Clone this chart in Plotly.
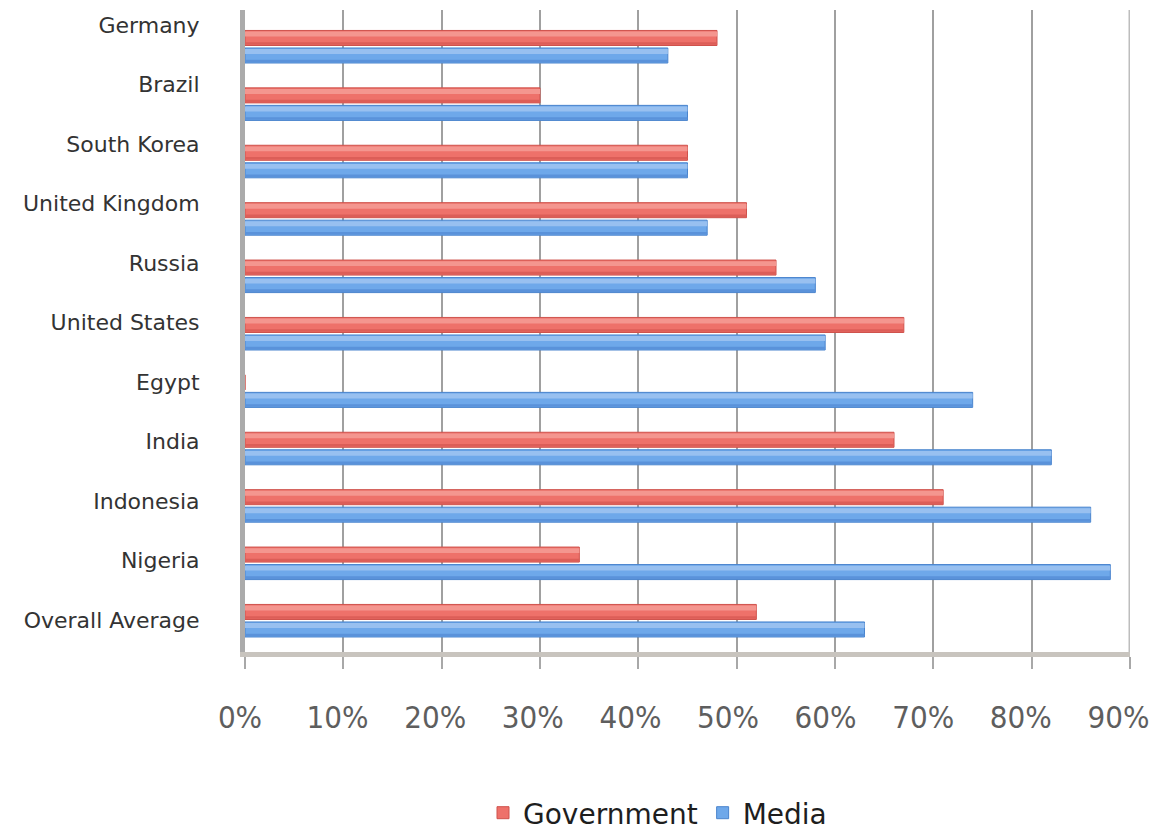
import plotly.graph_objects as go

# Trust in institutions by country (share of respondents)
countries = [
    "Germany", "Brazil", "South Korea", "United Kingdom", "Russia",
    "United States", "Egypt", "India", "Indonesia", "Nigeria", "Overall Average",
]
government = [0.48, 0.30, 0.45, 0.51, 0.54, 0.67, 0.0, 0.66, 0.71, 0.34, 0.52]
media = [0.43, 0.45, 0.45, 0.47, 0.58, 0.59, 0.74, 0.82, 0.86, 0.88, 0.63]
x_ticks = [0, 0.1, 0.2, 0.3, 0.4, 0.5, 0.6, 0.7, 0.8, 0.9]
x_tick_text = ["0%", "10%", "20%", "30%", "40%", "50%", "60%", "70%", "80%", "90%"]

# colour ramps for the shaded, tube-like bars: (light top, body, dark lower edge, outline)
RED = ("#F4968F", "#EE716A", "#DC5E58", "#CF524C")
BLUE = ("#98C0F0", "#6EA8EA", "#5A92DA", "#4A84CD")

# plot area spans 230..1130 px horizontally; bars start at the back wall (245 px)
PLOT_L, PLOT_R = 230, 1130
WALL_X = 245
plot_w = PLOT_R - PLOT_L

# bar geometry inside each category slot (category units, axis reversed so
# negative offsets are drawn higher up)
BAR_W = 0.262
SLOT = 0.305
LIGHT_W = 0.085
DARK_W = 0.045

fig = go.Figure()


def add_series(name, values, ramp, offset):
    light, body, dark, outline = ramp
    fig.add_trace(go.Bar(
        name=name, y=countries, x=values, orientation="h",
        offset=offset, width=BAR_W,
        marker=dict(color=body, line=dict(color=outline, width=1)),
    ))
    fig.add_trace(go.Bar(
        y=countries, x=values, orientation="h",
        offset=offset + 0.02, width=LIGHT_W,
        marker=dict(color=light, line=dict(width=0)),
        showlegend=False, hoverinfo="skip",
    ))
    fig.add_trace(go.Bar(
        y=countries, x=values, orientation="h",
        offset=offset + BAR_W - DARK_W - 0.012, width=DARK_W,
        marker=dict(color=dark, line=dict(width=0)),
        showlegend=False, hoverinfo="skip",
    ))


add_series("Government", government, RED, -SLOT + (SLOT - BAR_W) / 2)
add_series("Media", media, BLUE, (SLOT - BAR_W) / 2)

# Carrier trace for the front-face labels (categories and percentages)
fig.add_trace(go.Scatter(
    x=[0] * len(countries), y=countries, yaxis="y2", xaxis="x2",
    mode="markers", marker=dict(opacity=0), showlegend=False, hoverinfo="skip",
))

# front-face percentage scale: 0% centred at 240 px, 97.6 px per 10%
front_zero, front_step = 240, 976.0
x2_lo = (PLOT_L + 5 - front_zero) / front_step
x2_hi = x2_lo + (plot_w - 5) / front_step

fig.update_layout(
    template="none",
    width=1162, height=834,
    margin=dict(l=PLOT_L, r=1162 - PLOT_R, t=10, b=182, autoexpand=False),
    paper_bgcolor="white", plot_bgcolor="rgba(0,0,0,0)",
    barmode="overlay",
    font=dict(family="DejaVu Sans, sans-serif", color="#333333"),
    xaxis=dict(
        domain=[(WALL_X - PLOT_L) / plot_w, 1], anchor="y",
        range=[0, 0.9], tickvals=x_ticks, showticklabels=False,
        showgrid=True, gridcolor="#A0A0A0", gridwidth=2,
        showline=True, linecolor="#C8C4BE", linewidth=5,
        ticks="outside", ticklen=12, tickwidth=2, tickcolor="#A8A8A8",
        zeroline=False, automargin=False,
    ),
    xaxis2=dict(
        domain=[5 / plot_w, 1], anchor="y", range=[x2_lo, x2_hi],
        tickvals=x_ticks, ticktext=x_tick_text,
        showgrid=False, showline=False, zeroline=False,
        ticks="outside", ticklen=38, tickcolor="rgba(0,0,0,0)",
        tickfont=dict(family="DejaVu Sans Condensed, DejaVu Sans, sans-serif",
                      size=31, color="#5E5E5E"),
        automargin=False,
    ),
    yaxis=dict(
        anchor="x", type="category", categoryarray=countries,
        range=[10.545, -0.640], showticklabels=False,
        showgrid=False, zeroline=False,
        showline=True, linecolor="#ABABAB", linewidth=5, automargin=False,
    ),
    yaxis2=dict(
        anchor="x", type="category", categoryarray=countries, overlaying="y",
        side="left", range=[10.538, -0.252],
        showgrid=False, zeroline=False, showline=False,
        ticks="outside", ticklen=40, tickcolor="rgba(0,0,0,0)",
        tickfont=dict(family="DejaVu Sans, sans-serif", size=22, color="#333333"),
        automargin=False,
    ),
    legend=dict(
        orientation="h", x=0.475, xanchor="center",
        yref="container", y=(834 - 813) / 834, yanchor="middle",
        font=dict(family="DejaVu Sans, sans-serif", size=28, color="#1E1E1E"),
        traceorder="normal", bgcolor="rgba(0,0,0,0)",
    ),
    shapes=[
        # right wall edge
        dict(type="line", xref="x", yref="paper", x0=0.9, x1=0.9, y0=0, y1=1,
             line=dict(color="#BDBDBD", width=3)),
    ],
)

fig.write_html("out.html")
